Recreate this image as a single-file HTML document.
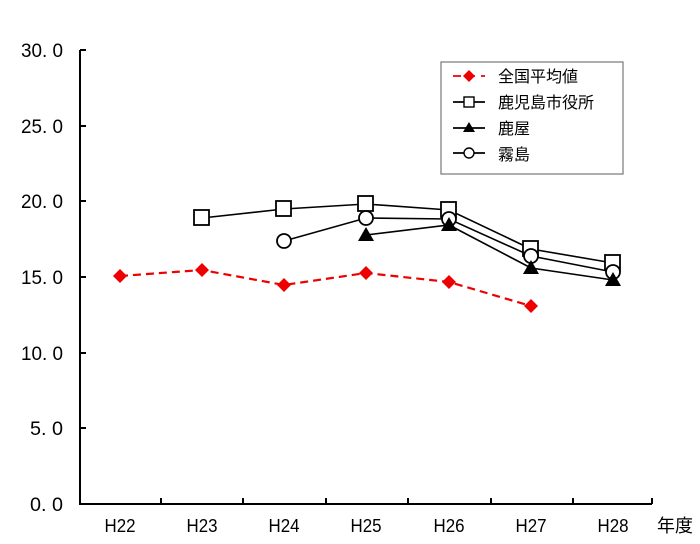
<!DOCTYPE html>
<html><head><meta charset="utf-8"><style>body{margin:0;background:#fff}svg{display:block}text{font-family:"Liberation Sans","Noto Sans CJK JP",sans-serif;fill:#000}</style></head><body>
<svg width="700" height="544" viewBox="0 0 700 544">
<g stroke="#000" stroke-width="2" fill="none">
<path d="M80,50 V504 H652"/>
<path d="M80,50h6M80,126h6M80,201h6M80,277h6M80,353h6M80,428h6"/>
<path d="M161,504v-6M243,504v-6M326,504v-6M408,504v-6M491,504v-6M573,504v-6M652,504v-6"/>
</g>
<g font-size="19" text-anchor="end">
<text x="63" y="57" textLength="42" lengthAdjust="spacingAndGlyphs">30. 0</text><text x="63" y="133" textLength="42" lengthAdjust="spacingAndGlyphs">25. 0</text><text x="63" y="208" textLength="42" lengthAdjust="spacingAndGlyphs">20. 0</text><text x="63" y="284" textLength="42" lengthAdjust="spacingAndGlyphs">15. 0</text><text x="63" y="360" textLength="42" lengthAdjust="spacingAndGlyphs">10. 0</text><text x="63" y="435" textLength="33" lengthAdjust="spacingAndGlyphs">5. 0</text><text x="63" y="511" textLength="33" lengthAdjust="spacingAndGlyphs">0. 0</text>
</g>
<g font-size="18" text-anchor="middle">
<text x="120" y="532" textLength="31" lengthAdjust="spacingAndGlyphs">H22</text><text x="202" y="532" textLength="31" lengthAdjust="spacingAndGlyphs">H23</text><text x="284" y="532" textLength="31" lengthAdjust="spacingAndGlyphs">H24</text><text x="366" y="532" textLength="31" lengthAdjust="spacingAndGlyphs">H25</text><text x="449" y="532" textLength="31" lengthAdjust="spacingAndGlyphs">H26</text><text x="531" y="532" textLength="31" lengthAdjust="spacingAndGlyphs">H27</text><text x="613" y="532" textLength="31" lengthAdjust="spacingAndGlyphs">H28</text><text x="675" y="532">年度</text>
</g>
<polyline points="120,276 202,270 284,285 366,273 449,282 531,306" fill="none" stroke="#e00" stroke-width="2.2" stroke-dasharray="8,5"/>
<g fill="#e00">
<path d="M120,269l7,7l-7,7l-7,-7z"/><path d="M202,263l7,7l-7,7l-7,-7z"/><path d="M284,278l7,7l-7,7l-7,-7z"/><path d="M366,266l7,7l-7,7l-7,-7z"/><path d="M449,275l7,7l-7,7l-7,-7z"/><path d="M531,299l7,7l-7,7l-7,-7z"/>
</g>
<g fill="none" stroke="#000" stroke-width="1.6">
<polyline points="202,218 284,209 366,204 449,210 531,249 613,263"/>
<polyline points="366,235 449,225 531,268 613,280"/>
<polyline points="284,241 366,218 449,219 531,256 613,272"/>
</g>
<g fill="#fff" stroke="#000" stroke-width="1.8">
<rect x="194" y="210" width="15" height="15"/><rect x="276" y="201" width="15" height="15"/><rect x="358" y="196" width="15" height="15"/><rect x="441" y="202" width="15" height="15"/><rect x="523" y="241" width="15" height="15"/><rect x="605" y="255" width="15" height="15"/>
<circle cx="284" cy="241" r="7"/><circle cx="366" cy="218" r="7"/><circle cx="449" cy="219" r="7"/><circle cx="531" cy="256" r="7"/><circle cx="613" cy="272" r="7"/>
</g>
<g fill="#000">
<path d="M366,227l8,14h-16z"/><path d="M449,217l8,14h-16z"/><path d="M531,260l8,14h-16z"/><path d="M613,272l8,14h-16z"/>
</g>
<rect x="441" y="62" width="182" height="112" fill="#fff" stroke="#777" stroke-width="1.2"/>
<g stroke-width="1.8" fill="none">
<path d="M453,76h32" stroke="#e00" stroke-dasharray="8,6"/>
<path d="M453,102h32M453,128h32M453,153h32" stroke="#000"/>
</g>
<path d="M469,70l6,6l-6,6l-6,-6z" fill="#e00"/>
<rect x="464" y="97" width="10" height="10" fill="#fff" stroke="#000" stroke-width="1.4"/>
<path d="M469,122l6,10h-12z" fill="#000"/>
<circle cx="469" cy="153" r="5" fill="#fff" stroke="#000" stroke-width="1.4"/>
<g font-size="16">
<text x="498" y="82">全国平均値</text><text x="498" y="108">鹿児島市役所</text><text x="498" y="134">鹿屋</text><text x="498" y="160">霧島</text>
</g>
</svg>
</body></html>
